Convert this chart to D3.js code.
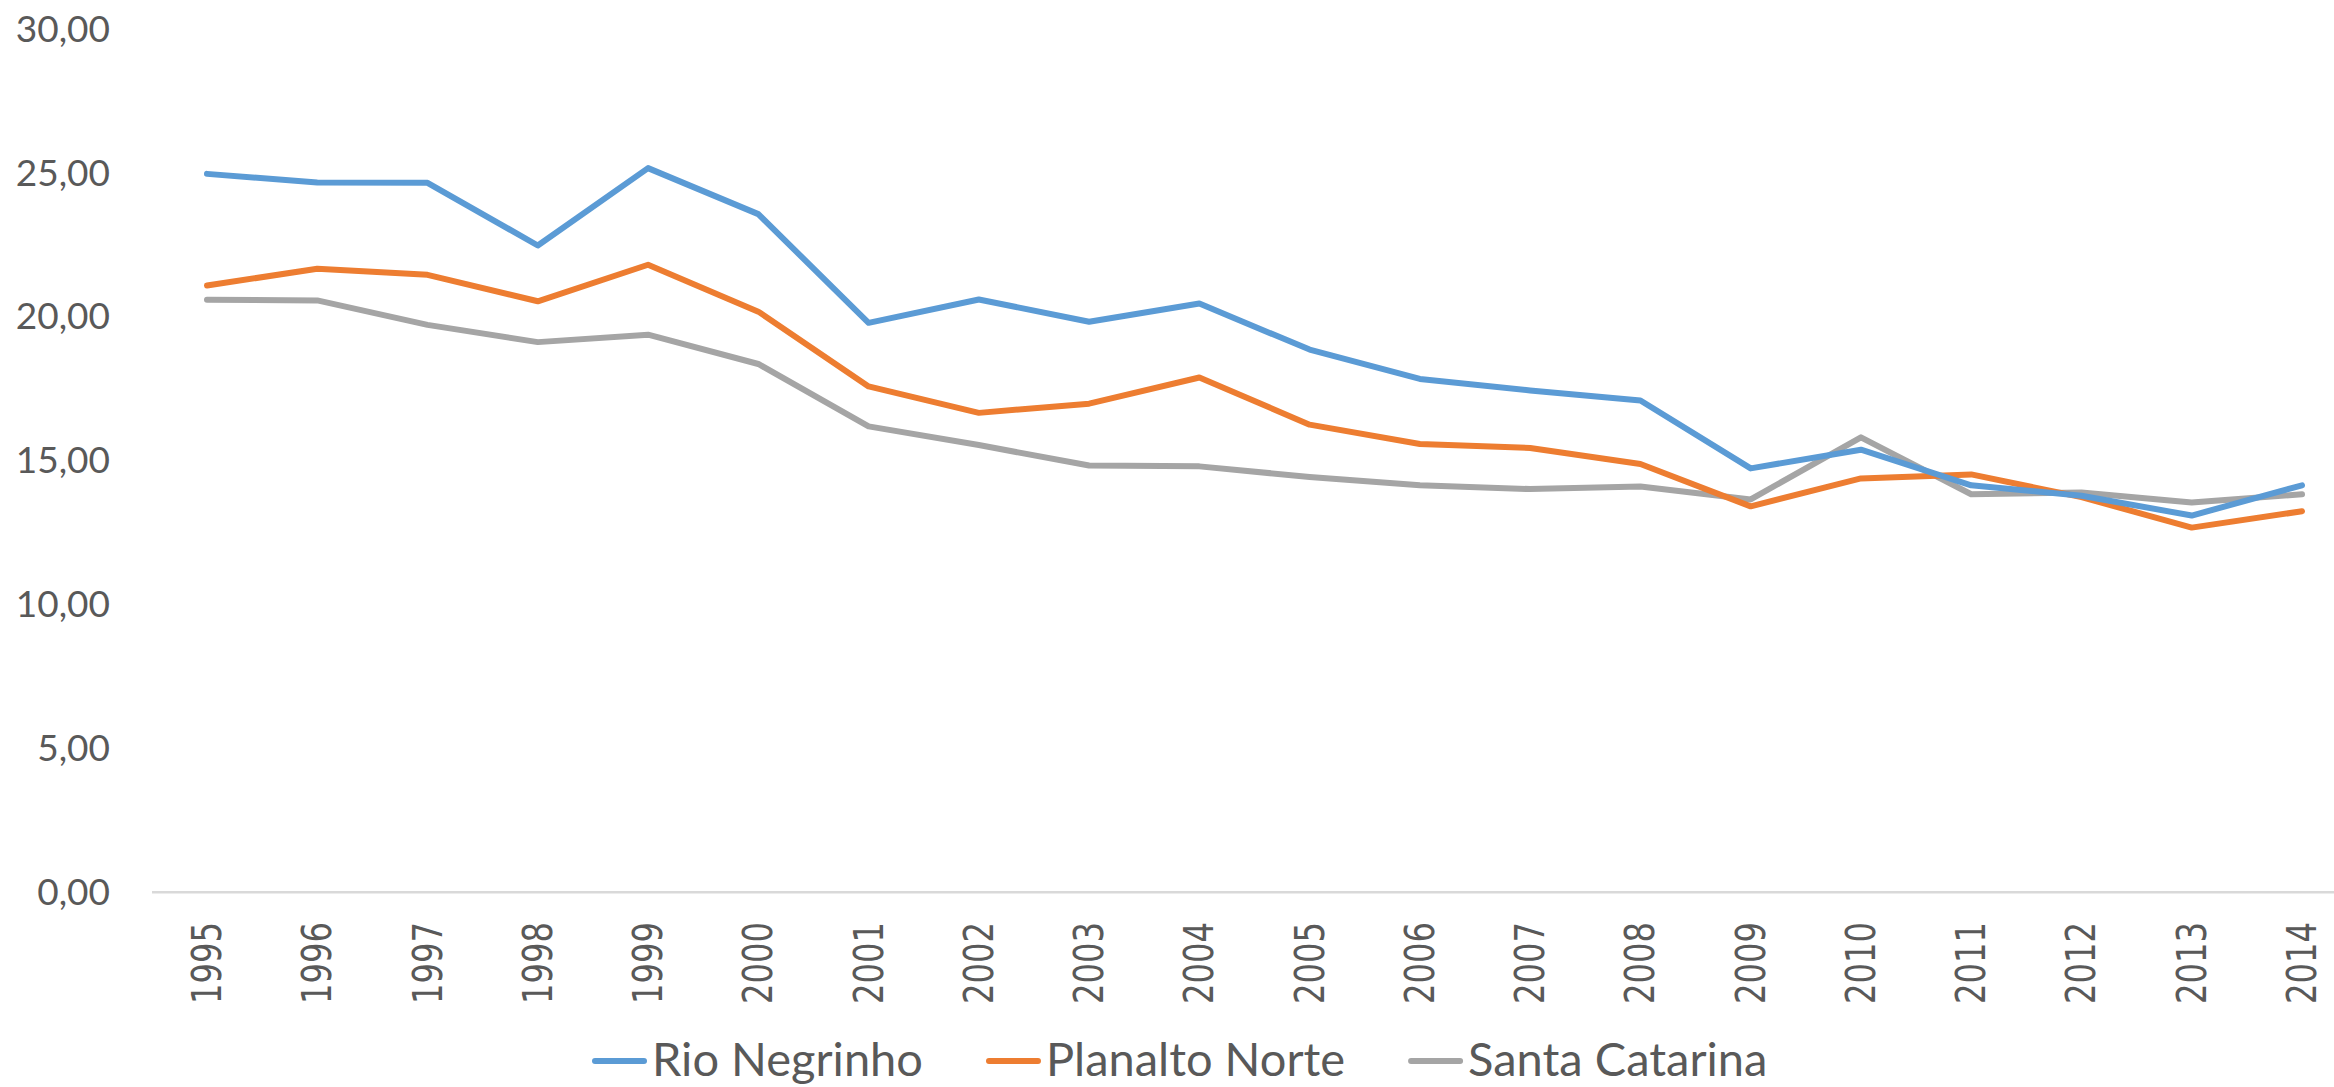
<!DOCTYPE html>
<html>
<head>
<meta charset="utf-8">
<script src="https://cdn.jsdelivr.net/npm/d3@7"></script>
<style>
  body { margin: 0; background: #fff; }
  svg { display: block; }
</style>
</head>
<body>
<div id="chart"></div>
<script>
// Data
var years = ["1995", "1996", "1997", "1998", "1999", "2000", "2001", "2002", "2003", "2004",
             "2005", "2006", "2007", "2008", "2009", "2010", "2011", "2012", "2013", "2014"];
var rioNegrinho = [24.98, 24.68, 24.67, 22.49, 25.18, 23.58, 19.80, 20.61, 19.84, 20.47,
                   18.87, 17.85, 17.45, 17.10, 14.74, 15.39, 14.15, 13.79, 13.10, 14.15];
var planaltoNorte = [21.10, 21.68, 21.47, 20.55, 21.82, 20.19, 17.59, 16.67, 16.99, 17.90,
                     16.26, 15.59, 15.45, 14.89, 13.42, 14.39, 14.53, 13.74, 12.68, 13.25];
var santaCatarina = [20.60, 20.58, 19.73, 19.13, 19.39, 18.37, 16.20, 15.55, 14.84, 14.81,
                     14.44, 14.15, 14.02, 14.11, 13.66, 15.82, 13.84, 13.90, 13.55, 13.84];
var seriesNames = ["Rio Negrinho", "Planalto Norte", "Santa Catarina"];
var seriesColors = ["#5B9BD5", "#ED7D31", "#A5A5A5"];
var yTicks = [0, 5, 10, 15, 20, 25, 30];

var w = 2334;
var h = 1087;
var textColor = "#595959";
var font = "Lato, 'Open Sans', sans-serif";

var svg = d3.select("#chart")
  .append("svg")
  .attr("width", w)
  .attr("height", h);

svg.append("rect")
  .attr("width", w)
  .attr("height", h)
  .attr("fill", "#fff");

// Scales
var xScale = d3.scalePoint()
  .domain(years)
  .range([207, 2302]);

var yScale = d3.scaleLinear()
  .domain([0, 30])
  .range([892.3, 29.5]);

var fmt = function(d) { return d3.format(".2f")(d).replace(".", ","); };

// Y axis labels (no line, no ticks)
var yAxis = svg.append("g")
  .attr("transform", "translate(110,0)")
  .call(d3.axisLeft(yScale).tickValues(yTicks).tickFormat(fmt).tickSize(0).tickPadding(0));
yAxis.select(".domain").remove();
yAxis.selectAll("text")
  .attr("fill", textColor)
  .style("font-family", font)
  .style("font-size", "37px");

// Category axis line
svg.append("line")
  .attr("x1", 152)
  .attr("x2", w)
  .attr("y1", yScale(0))
  .attr("y2", yScale(0))
  .attr("stroke", "#D9D9D9")
  .attr("stroke-width", 2.5);

// Year labels, rotated
svg.append("g")
  .selectAll("text")
  .data(years)
  .enter()
  .append("text")
  .attr("transform", function(d) {
    return "translate(" + xScale(d) + ",922) rotate(-90)";
  })
  .attr("text-anchor", "end")
  .attr("dy", "0.35em")
  .attr("fill", textColor)
  .attr("textLength", 82)
  .attr("lengthAdjust", "spacingAndGlyphs")
  .style("font-family", "'DejaVu Sans', sans-serif")
  .style("font-size", "40px")
  .text(function(d) { return d; });

// Lines
var allSeries = [rioNegrinho, planaltoNorte, santaCatarina];
var line = d3.line()
  .x(function(d, i) { return xScale(years[i]); })
  .y(function(d) { return yScale(d); });

// draw in reverse so blue ends on top like the original
[2, 1, 0].forEach(function(k) {
  svg.append("path")
    .datum(allSeries[k])
    .attr("d", line)
    .attr("fill", "none")
    .attr("stroke", seriesColors[k])
    .attr("stroke-width", 6)
    .attr("stroke-linejoin", "round")
    .attr("stroke-linecap", "round");
});

// Legend
var legend = svg.append("g");
var lx = 592;
var ly = 1061;
seriesNames.forEach(function(name, k) {
  legend.append("line")
    .attr("x1", lx + 3)
    .attr("x2", lx + 52)
    .attr("y1", ly)
    .attr("y2", ly)
    .attr("stroke", seriesColors[k])
    .attr("stroke-width", 6)
    .attr("stroke-linecap", "round");
  var t = legend.append("text")
    .attr("x", lx + 60)
    .attr("y", 1076)
    .attr("fill", textColor)
    .style("font-family", font)
    .style("font-size", "47px")
    .text(name);
  lx = lx + 60 + t.node().getComputedTextLength() + 63;
});
</script>
</body>
</html>
